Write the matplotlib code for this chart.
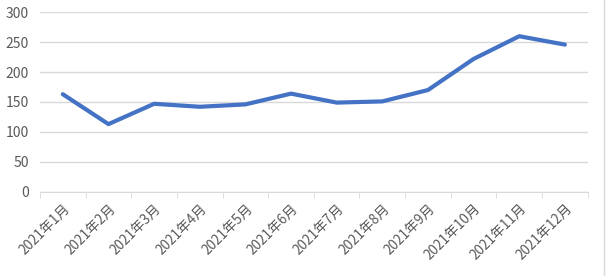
import matplotlib
matplotlib.use("Agg")
import matplotlib.pyplot as plt
import numpy as np

plt.rcParams['font.family'] = ['Noto Sans CJK SC', 'DejaVu Sans']

months = ["2021年1月", "2021年2月", "2021年3月", "2021年4月", "2021年5月", "2021年6月",
          "2021年7月", "2021年8月", "2021年9月", "2021年10月", "2021年11月", "2021年12月"]
values = [163, 113, 147, 142, 146, 164, 149, 151, 170, 222, 260, 246]
yticks = [0, 50, 100, 150, 200, 250, 300]

fig = plt.figure(figsize=(6.06, 2.76), dpi=100)
ax = fig.add_axes([40/606, 1 - 191.7/276, 547.7/606, 179.4/276])

x = np.arange(len(months))
ax.plot(x, values, color="#4472C4", lw=3.0, solid_capstyle="round", solid_joinstyle="round")

ax.set_xlim(-0.5, len(months) - 0.5)
ax.set_ylim(0, 300)
ax.set_yticks(yticks)
ax.yaxis.grid(True, color="#d9d9d9", lw=1)
ax.set_axisbelow(True)
for s in ["top", "right", "left"]:
    ax.spines[s].set_visible(False)
ax.spines["bottom"].set_color("#d9d9d9")
ax.tick_params(axis="y", length=0, labelsize=10, labelcolor="#595959", pad=8)

# category labels at centers, tick marks at boundaries
ax.set_xticks(x)
ax.set_xticklabels(months, rotation=45, ha="right", rotation_mode="anchor",
                   fontsize=9.8, color="#595959")
ax.tick_params(axis="x", length=0, pad=7)
ax.set_xticks(np.arange(-0.5, len(months)), minor=True)
ax.tick_params(axis="x", which="minor", length=4, color="#d9d9d9")

fig.add_artist(plt.Line2D([604/606, 604/606], [0, 1], color="#d9d9d9", lw=1))

fig.savefig("out.png", dpi=100)
